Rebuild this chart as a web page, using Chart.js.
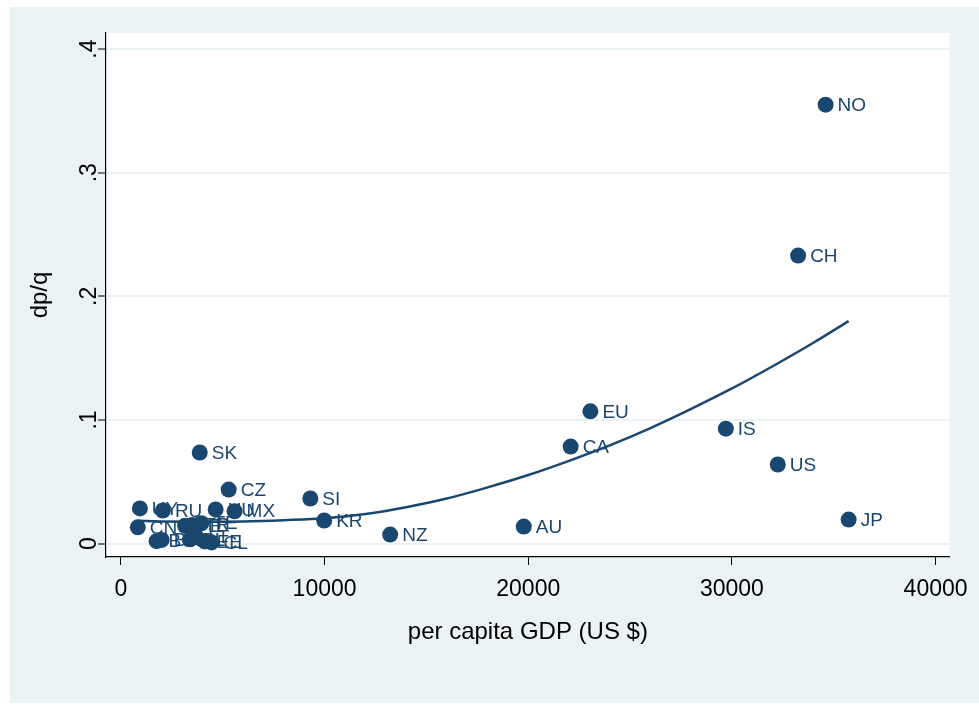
<!DOCTYPE html>
<html>
<head>
<meta charset="utf-8">
<script src="https://cdn.jsdelivr.net/npm/chart.js@4/dist/chart.umd.min.js"></script>
<style>
  html, body { margin: 0; padding: 0; background: #fff; }
  #wrap { width: 979px; height: 708px; position: relative; }
</style>
</head>
<body>
<div id="wrap"><canvas id="chart" width="979" height="708"></canvas></div>
<script>
// country codes, per capita GDP (US $) and dp/q
const codes = ["NO", "CH", "EU", "IS", "CA", "US", "JP", "AU", "NZ", "KR", "SI", "SK", "CZ", "HU", "MX", "UY", "RU", "CN",
  "BG", "BR", "PE", "TR", "TE", "PL", "LT", "EE", "CL"];
const gdp = [34600, 33250, 23050, 29700, 22080, 32250, 35730, 19780, 13220, 9980, 9300, 3870, 5290, 4650, 5580, 930, 2060, 830,
  1750, 2000, 3150, 3500, 3950, 3400, 3700, 4110, 4450];
const dpq = [0.355, 0.233, 0.107, 0.093, 0.0785, 0.064, 0.0195, 0.0138, 0.0073, 0.0187, 0.0365, 0.0737, 0.0437, 0.0277, 0.0262, 0.0285, 0.0268, 0.0132,
  0.0020, 0.0030, 0.0145, 0.0150, 0.0165, 0.0035, 0.0055, 0.0018, 0.0010];

// fitted curve
const fitX = [830, 2000, 4000, 6000, 8000, 10000, 12000, 14000, 16000, 18000, 20000, 22000, 24000, 26000, 28000, 30000, 32000, 34000, 35730];
const fitY = [0.0185, 0.018, 0.0177, 0.018, 0.019, 0.0205, 0.024, 0.0295, 0.0365, 0.0455, 0.0555, 0.067, 0.0795, 0.0935, 0.109, 0.1255, 0.1435, 0.1625, 0.18];

const xTicks = [0, 10000, 20000, 30000, 40000];
const yTicks = [0, 0.1, 0.2, 0.3, 0.4];
const yTickLabels = ["0", ".1", ".2", ".3", ".4"];

const navy = "#1a476f";
const bgBlue = "#eaf2f3";
const font = "'Liberation Sans', Arial, sans-serif";

const backdrop = {
  id: "backdrop",
  beforeDraw(chart) {
    const { ctx, chartArea: a } = chart;
    ctx.save();
    ctx.fillStyle = "#fff";
    ctx.fillRect(0, 0, chart.width, chart.height);
    ctx.fillStyle = bgBlue;
    ctx.fillRect(10, 7, chart.width - 10, 696);
    ctx.fillStyle = "#fff";
    ctx.fillRect(a.left, a.top, a.right - a.left, a.bottom - a.top);
    ctx.restore();
  },
};

const extras = {
  id: "extras",
  afterDatasetsDraw(chart) {
    const { ctx } = chart;
    // point labels
    const meta = chart.getDatasetMeta(1);
    ctx.save();
    ctx.font = "19px " + font;
    ctx.fillStyle = navy;
    ctx.textAlign = "left";
    ctx.textBaseline = "middle";
    meta.data.forEach((pt, i) => {
      ctx.fillText(codes[i], pt.x + 12, pt.y + 1);
    });
    ctx.restore();
  },
  afterDraw(chart) {
    const { ctx } = chart;
    const ys = chart.scales.y;
    ctx.save();
    ctx.font = "23px " + font;
    ctx.fillStyle = "#000";
    ctx.textAlign = "center";
    ctx.textBaseline = "alphabetic";
    yTicks.forEach((v, i) => {
      const py = ys.getPixelForValue(v);
      ctx.save();
      ctx.translate(96, py);
      ctx.rotate(-Math.PI / 2);
      ctx.fillText(yTickLabels[i], 0, 0);
      ctx.restore();
    });
    ctx.restore();
  },
};

new Chart(document.getElementById("chart"), {
  type: "scatter",
  data: {
    datasets: [
      {
        type: "line",
        label: "fit",
        data: fitX.map((x, i) => ({ x, y: fitY[i] })),
        borderColor: navy,
        borderWidth: 2.5,
        pointRadius: 0,
        fill: false,
        cubicInterpolationMode: "monotone",
      },
      {
        label: "dp/q",
        data: gdp.map((x, i) => ({ x, y: dpq[i] })),
        backgroundColor: navy,
        borderColor: navy,
        borderWidth: 0,
        pointRadius: 8,
        pointHoverRadius: 8,
      },
    ],
  },
  options: {
    responsive: false,
    animation: false,
    events: [],
    layout: { padding: { left: 0, top: 33, right: 25, bottom: 0 } },
    plugins: { legend: { display: false }, tooltip: { enabled: false } },
    scales: {
      x: {
        type: "linear",
        min: -733,
        max: 40693,
        afterBuildTicks: (s) => { s.ticks = xTicks.map((v) => ({ value: v })); },
        afterFit: (s) => { s.height = 151; },
        ticks: {
          color: "#000",
          padding: 11,
          maxRotation: 0,
          font: { size: 23, family: font },
          callback: (v) => String(v),
        },
        grid: { drawOnChartArea: false, drawTicks: true, tickLength: 8, tickColor: "#000", tickWidth: 1 },
        border: { color: "#000", width: 1.2 },
        title: {
          display: true,
          text: "per capita GDP (US $)",
          color: "#000",
          font: { size: 24, family: font },
          padding: { top: 0, bottom: 61 },
        },
      },
      y: {
        type: "linear",
        min: -0.0108,
        max: 0.413,
        afterBuildTicks: (s) => { s.ticks = yTicks.map((v) => ({ value: v })); },
        afterFit: (s) => { s.width = 106; },
        ticks: { display: false },
        grid: { color: bgBlue, lineWidth: 2, drawTicks: true, tickLength: 8, tickColor: "#000", tickWidth: 1 },
        border: { color: "#000", width: 1.2 },
        title: {
          display: true,
          text: "dp/q",
          color: "#000",
          font: { size: 24, family: font },
          padding: { top: 26, bottom: 0 },
        },
      },
    },
  },
  plugins: [backdrop, extras],
});
</script>
</body>
</html>
